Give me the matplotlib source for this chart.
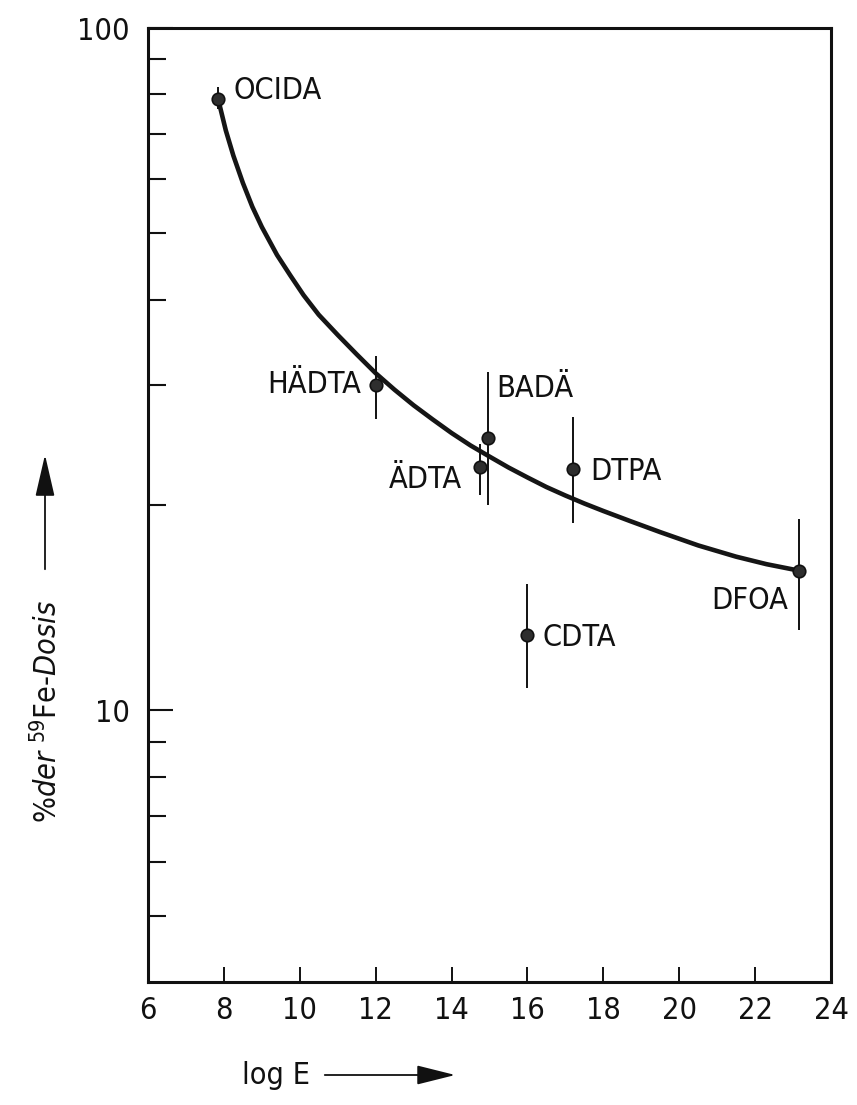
import matplotlib
matplotlib.use("Agg")
import matplotlib.pyplot as plt
import matplotlib.font_manager as fm
from matplotlib.patches import FancyArrowPatch
from matplotlib.ticker import FixedLocator, FixedFormatter, NullFormatter

# ---------------- data ----------------
compounds = ["OCIDA", "HÄDTA", "ÄDTA", "BADÄ", "DTPA", "CDTA", "DFOA"]
log_e = [7.85, 12.0, 14.75, 14.95, 17.2, 16.0, 23.15]
dose_pct = [78.6, 30.0, 22.7, 25.1, 22.6, 12.9, 16.0]
err_low = [76.0, 26.7, 20.7, 20.0, 18.8, 10.8, 13.1]
err_high = [82.0, 33.1, 24.6, 31.3, 26.9, 15.3, 19.1]

curve_x = [7.85, 8.05, 8.25, 8.5, 8.75, 9.0, 9.4, 9.75, 10.1, 10.5,
           11.0, 11.5, 12.0, 12.5, 13.0, 13.5, 14.0, 14.5, 15.0, 15.5,
           16.0, 16.5, 17.0, 17.5, 18.0, 18.7, 19.5, 20.5, 21.5, 22.3, 23.1]
curve_y = [78.6, 70.8, 65.0, 59.3, 54.7, 51.1, 46.5, 43.4, 40.6, 38.0,
           35.5, 33.25, 31.2, 29.5, 28.0, 26.7, 25.5, 24.45, 23.55, 22.7,
           21.95, 21.25, 20.65, 20.1, 19.6, 18.95, 18.25, 17.45, 16.8, 16.38,
           16.05]

x_ticks = [6, 8, 10, 12, 14, 16, 18, 20, 22, 24]
x_ticklabels = ["6", "8", "10", "12", "14", "16", "18", "20", "22", "24"]
y_major = [10, 100]
y_major_labels = ["10", "100"]
y_minor = [5, 6, 7, 8, 9, 20, 30, 40, 50, 60, 70, 80, 90]

x_label = "log E"
y_label = r"%$\mathit{der}$ $^{59}$Fe-$\mathit{Dosis}$"

# ---------------- fonts ----------------
names = {f.name for f in fm.fontManager.ttflist}
if "Liberation Sans Narrow" in names:
    FONT = "Liberation Sans Narrow"
    STRETCH = "normal"
    FS = 26
else:
    FONT = "DejaVu Sans"
    STRETCH = "condensed"
    FS = 22
plt.rcParams["font.family"] = [FONT, "DejaVu Sans"]
plt.rcParams["font.stretch"] = STRETCH
plt.rcParams["mathtext.fontset"] = "custom"
plt.rcParams["mathtext.rm"] = FONT
plt.rcParams["mathtext.it"] = FONT + ":italic"
plt.rcParams["mathtext.bf"] = FONT + ":bold"

INK = "#111111"
W, H = 857, 1105
fig = plt.figure(figsize=(W / 100, H / 100), dpi=100)
fig.patch.set_facecolor("white")

# axes box in pixels: left 148, right 831, top 28, bottom 982
ax = fig.add_axes([148 / W, 1 - 982 / H, (831 - 148) / W, (982 - 28) / H])
ax.set_yscale("log")
ax.set_xlim(6, 24)
ax.set_ylim(4, 100)

for s in ax.spines.values():
    s.set_linewidth(2.2)
    s.set_color(INK)

ax.xaxis.set_major_locator(FixedLocator(x_ticks))
ax.xaxis.set_major_formatter(FixedFormatter(x_ticklabels))
ax.yaxis.set_major_locator(FixedLocator(y_major))
ax.yaxis.set_major_formatter(FixedFormatter(y_major_labels))
ax.yaxis.set_minor_locator(FixedLocator(y_minor))
ax.yaxis.set_minor_formatter(NullFormatter())
ax.xaxis.set_minor_locator(FixedLocator([]))

ax.tick_params(axis="x", which="major", direction="in", length=11, width=1.4,
               pad=10, labelsize=FS, colors=INK)
ax.tick_params(axis="y", which="major", direction="in", length=18, width=1.5,
               pad=13, labelsize=FS, colors=INK)
ax.tick_params(axis="y", which="minor", direction="in", length=13, width=1.5,
               colors=INK)

# curve
ax.plot(curve_x, curve_y, color="#151515", lw=3.3, solid_capstyle="round",
        solid_joinstyle="round", zorder=3)

# points with error bars
lower = [v - lo for v, lo in zip(dose_pct, err_low)]
upper = [hi - v for v, hi in zip(dose_pct, err_high)]
ax.errorbar(log_e, dose_pct, yerr=[lower, upper], fmt="o", ms=9,
            mfc="#2e2e2e", mec=INK, mew=1.2, ecolor=INK,
            elinewidth=1.4, capsize=0, zorder=4)

# point labels: (dx, dy) offsets in pixels from the marker to the cap centre
label_style = {
    "OCIDA": (15, 11, "left"),
    "HÄDTA": (-15, 3, "right"),
    "ÄDTA": (-18, -10, "right"),
    "BADÄ": (9, 52, "left"),
    "DTPA": (17, 0, "left"),
    "CDTA": (15, 0, "left"),
    "DFOA": (-11, -27, "right"),
}
cap_half = 0.36 * FS * 100 / 72
for name, xv, yv in zip(compounds, log_e, dose_pct):
    dx, dy, ha = label_style[name]
    ax.annotate(name, (xv, yv), xytext=(dx, dy - cap_half),
                textcoords="offset pixels", ha=ha, va="baseline",
                fontsize=FS, color=INK, zorder=5)

# axis labels with arrows
fig.text(276 / W, 1 - 1075 / H, x_label, ha="center", va="center",
         fontsize=FS, color=INK)
fig.add_artist(FancyArrowPatch(
    (322 / W, 1 - 1075 / H), (458 / W, 1 - 1075 / H),
    transform=fig.transFigure, arrowstyle="-|>,head_length=1.2,head_width=0.3",
    mutation_scale=20, lw=1.3, color=INK))

fig.text(47 / W, 1 - 712 / H, y_label, rotation=90, ha="center", va="center",
         fontsize=FS, color=INK)
fig.add_artist(FancyArrowPatch(
    (45 / W, 1 - 572 / H), (45 / W, 1 - 452 / H),
    transform=fig.transFigure, arrowstyle="-|>,head_length=1.3,head_width=0.3",
    mutation_scale=20, lw=1.3, color=INK))

fig.savefig("out.png", dpi=100, facecolor="white")
